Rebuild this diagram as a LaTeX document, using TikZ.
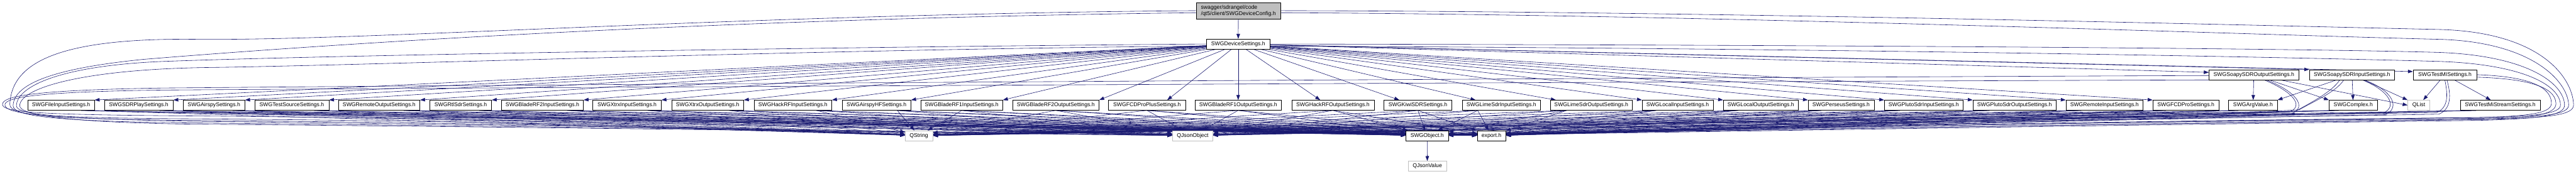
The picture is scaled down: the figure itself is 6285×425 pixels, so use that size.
\documentclass[tikz,border=0pt]{standalone}
\usepackage{fontspec}
\setmainfont{Liberation Sans}
\usetikzlibrary{arrows.meta,calc}
\definecolor{edgeblue}{RGB}{25,25,112}
\definecolor{extgray}{RGB}{191,191,191}
\definecolor{topfill}{RGB}{191,191,191}
\pgfdeclarelayer{bg}
\pgfdeclarelayer{paper}
\pgfsetlayers{paper,bg,main}
\begin{document}
\begin{tikzpicture}[x=1pt,y=-1pt,
 box/.style={draw=black,fill=white,line width=0.9pt,minimum height=24.5pt,inner xsep=2pt,inner ysep=0pt,anchor=west,font=\fontsize{13.3}{15.5}\selectfont},
 ext/.style={box,draw=extgray},
 hdr/.style={box,fill=topfill,align=left,minimum height=40pt,inner xsep=4pt},
 edge/.style={draw=edgeblue,line width=0.9pt,-{Triangle[length=12pt,width=8.5pt]}},
]
\begin{pgfonlayer}{paper}
\fill[white] (0,0) rectangle (6285,425);
\end{pgfonlayer}
\useasboundingbox (0,0) rectangle (6285,425);

% ---------------- nodes ----------------
\node[hdr,minimum width=206pt] (config) at (2918,26) {swagger/sdrangel/code\\/qt5/client/SWGDeviceConfig.h};
\node[box,minimum width=155pt] (ds) at (2943,107.5) {SWGDeviceSettings.h};

\node[box,minimum width=163pt] (fileinput) at (67,257) {SWGFileInputSettings.h};
\node[box,minimum width=168pt] (sdrplay) at (254,257) {SWGSDRPlaySettings.h};
\node[box,minimum width=151pt] (airspy) at (446,257) {SWGAirspySettings.h};
\node[box,minimum width=181pt] (testsource) at (621,257) {SWGTestSourceSettings.h};
\node[box,minimum width=199pt] (remoteout) at (825,257) {SWGRemoteOutputSettings.h};
\node[box,minimum width=151pt] (rtlsdr) at (1048,257) {SWGRtlSdrSettings.h};
\node[box,minimum width=200pt] (bladerf2in) at (1223,257) {SWGBladeRF2InputSettings.h};
\node[box,minimum width=167pt] (xtrxin) at (1446,257) {SWGXtrxInputSettings.h};
\node[box,minimum width=176pt] (xtrxout) at (1638,257) {SWGXtrxOutputSettings.h};
\node[box,minimum width=190pt] (hackrfin) at (1839,257) {SWGHackRFInputSettings.h};
\node[box,minimum width=168pt] (airspyhf) at (2054,257) {SWGAirspyHFSettings.h};
\node[box,minimum width=200pt] (bladerf1in) at (2246,257) {SWGBladeRF1InputSettings.h};
\node[box,minimum width=211pt] (bladerf2out) at (2470,257) {SWGBladeRF2OutputSettings.h};
\node[box,minimum width=188pt] (fcdproplus) at (2704,257) {SWGFCDProPlusSettings.h};
\node[box,minimum width=211pt] (bladerf1out) at (2915,257) {SWGBladeRF1OutputSettings.h};
\node[box,minimum width=201pt] (hackrfout) at (3151,257) {SWGHackRFOutputSettings.h};
\node[box,minimum width=166pt] (kiwisdr) at (3376,257) {SWGKiwiSDRSettings.h};
\node[box,minimum width=191pt] (limein) at (3567,257) {SWGLimeSdrInputSettings.h};
\node[box,minimum width=200pt] (limeout) at (3782,257) {SWGLimeSdrOutputSettings.h};
\node[box,minimum width=173pt] (localin) at (4006,257) {SWGLocalInputSettings.h};
\node[box,minimum width=183pt] (localout) at (4204,257) {SWGLocalOutputSettings.h};
\node[box,minimum width=161pt] (perseus) at (4411,257) {SWGPerseusSettings.h};
\node[box,minimum width=192pt] (plutoin) at (4597,257) {SWGPlutoSdrInputSettings.h};
\node[box,minimum width=203pt] (plutoout) at (4813,257) {SWGPlutoSdrOutputSettings.h};
\node[box,minimum width=188pt] (remotein) at (5040,257) {SWGRemoteInputSettings.h};
\node[box,minimum width=161pt] (fcdpro) at (5252,257) {SWGFCDProSettings.h};
\node[box,minimum width=119pt] (argvalue) at (5437,257) {SWGArgValue.h};
\node[box,minimum width=118pt] (complex) at (5682,257) {SWGComplex.h};
\node[ext,minimum width=54pt] (qlist) at (5874,257) {QList};
\node[box,minimum width=195pt] (testmistream) at (6002,257) {SWGTestMiStreamSettings.h};

\node[box,minimum width=219pt] (soapyout) at (5389,182.5) {SWGSoapySDROutputSettings.h};
\node[box,minimum width=208pt] (soapyin) at (5634,182.5) {SWGSoapySDRInputSettings.h};
\node[box,minimum width=155pt] (testmi) at (5887,182.5) {SWGTestMISettings.h};

\node[ext,minimum width=67pt] (qstring) at (2208,331.5) {QString};
\node[ext,minimum width=99pt] (qjsonobject) at (2860,331.5) {QJsonObject};
\node[box,minimum width=103pt] (swgobject) at (3430,331.5) {SWGObject.h};
\node[box,minimum width=69pt] (export) at (3604,331.5) {export.h};
\node[ext,minimum width=94pt] (qjsonvalue) at (3435,406) {QJsonValue};

% ---------------- edges ----------------
\begin{pgfonlayer}{bg}
\draw[edge] (config) -- (ds);
\draw[edge] (swgobject) -- (qjsonvalue);

% SWGDeviceSettings.h -> device settings headers
\foreach \n in {fileinput,sdrplay,airspy,testsource,remoteout,rtlsdr,bladerf2in,xtrxin,xtrxout,hackrfin,airspyhf,bladerf1in,bladerf2out}
  {\draw[edge] (ds) -- (\n.north east);}
\draw[edge] (ds) -- ($(fcdproplus.north east)+(-45,0)$);
\draw[edge] (ds) -- (bladerf1out);
\draw[edge] (ds) -- ($(hackrfout.north west)+(70,0)$);
\draw[edge] (ds) -- ($(kiwisdr.north west)+(38,0)$);
\draw[edge] (ds) -- ($(limein.north west)+(33,0)$);
\draw[edge] (ds) -- ($(limeout.north west)+(14,0)$);
\foreach \n in {localin,localout,perseus,plutoin,plutoout,remotein,fcdpro}
  {\draw[edge] (ds) -- (\n.north west);}
\draw[edge] (ds) -- ($(soapyout.north west)+(0,7)$);
\draw[edge] (ds) -- (soapyin.north west);
\draw[edge] (ds) -- ($(testmi.north west)+(0,5)$);

% settings headers -> common includes
\foreach \n in {fileinput,sdrplay,airspy,testsource,remoteout,rtlsdr,bladerf2in,xtrxin,xtrxout,hackrfin,airspyhf}
  {\foreach \tg in {qstring,qjsonobject,swgobject,export}
    {\draw[edge] ($(\n.south)!0.6!(\n.south east)$) -- (\tg);}}
\foreach \n in {bladerf1in,bladerf2out,fcdproplus,bladerf1out,hackrfout,kiwisdr}
  {\foreach \tg in {qstring,qjsonobject,swgobject,export}
    {\draw[edge] (\n.south) -- (\tg);}}
\foreach \n in {limein,limeout,localin,localout,perseus,plutoin,plutoout,remotein,fcdpro,argvalue,complex,testmistream}
  {\foreach \tg in {qstring,qjsonobject,swgobject,export}
    {\draw[edge] ($(\n.south)!0.6!(\n.south west)$) -- (\tg);}}

% Soapy / TestMI local includes
\draw[edge] (soapyout) -- (argvalue);
\draw[edge] (soapyout) -- (complex.north west);
\draw[edge] (soapyout) -- (qlist.west);
\draw[edge] (soapyin) -- (argvalue.north east);
\draw[edge] (soapyin) -- (complex);
\draw[edge] (soapyin) -- (qlist);
\draw[edge] (testmi) -- (qlist);
\draw[edge] (testmi) -- (testmistream);

% Soapy output -> commons
\draw[edge] ($(soapyout.south)+(25,0)$) .. controls (5590,222) and (5625,258) .. (5585,274) .. controls (4800,292) and (4000,318) .. (export);
\draw[edge] ($(soapyout.south)+(30,0)$) .. controls (5600,222) and (5632,262) .. (5590,278) .. controls (4800,296) and (3900,322) .. (swgobject);
% Soapy input -> commons
\draw[edge] ($(soapyin.south)+(-20,0)$) .. controls (5700,225) and (5640,250) .. (5610,268) .. controls (5400,285) and (2700,318) .. (qstring);
\draw[edge] ($(soapyin.south)+(-30,0)$) .. controls (5690,225) and (5630,255) .. (5600,272) .. controls (5300,290) and (3300,320) .. (qjsonobject);
\draw[edge] ($(soapyin.south)+(25,0)$) .. controls (5830,222) and (5850,260) .. (5815,276) .. controls (5000,290) and (4000,316) .. (export);
\draw[edge] ($(soapyin.south)+(30,0)$) .. controls (5840,222) and (5856,264) .. (5820,280) .. controls (5000,296) and (3900,322) .. (swgobject);
% TestMI -> commons
\draw[edge] (testmi.south) .. controls (5972,230) and (5975,262) .. (5945,275) .. controls (5000,290) and (2700,316) .. (qstring);
\draw[edge] ($(testmi.south)+(5,0)$) .. controls (5980,230) and (5982,266) .. (5950,279) .. controls (5000,295) and (3300,320) .. (qjsonobject);
\draw[edge] (testmi.east) .. controls (6150,186) and (6222,205) .. (6225,250) .. controls (6227,276) and (6180,283) .. (6050,287) .. controls (5000,300) and (4000,320) .. (export);
\draw[edge] ($(testmi.east)+(0,6)$) .. controls (6160,192) and (6234,210) .. (6236,252) .. controls (6238,280) and (6180,288) .. (6050,291) .. controls (5000,305) and (3900,324) .. (swgobject);

% right loops from config and device settings
\draw[edge] (config.east) .. controls (4200,28) and (5500,62) .. (5950,72) .. controls (6200,78) and (6276,190) .. (6279,255) .. controls (6281,282) and (6220,288) .. (6050,292) .. controls (5000,305) and (4000,322) .. (swgobject);
\draw[edge] ($(config.east)+(0,5)$) .. controls (4200,36) and (5500,85) .. (5950,96) .. controls (6180,102) and (6265,200) .. (6267,256) .. controls (6268,280) and (6210,286) .. (6050,289) .. controls (5000,300) and (4000,318) .. (export);
\draw[edge] (ds.east) .. controls (4500,110) and (5600,118) .. (5950,128) .. controls (6170,136) and (6255,205) .. (6257,256) .. controls (6258,282) and (6200,290) .. (6050,294) .. controls (5000,308) and (3900,326) .. (swgobject);
\draw[edge] ($(ds.east)+(0,5)$) .. controls (4500,118) and (5600,140) .. (5950,150) .. controls (6160,157) and (6246,210) .. (6247,256) .. controls (6248,278) and (6190,284) .. (6050,287) .. controls (5000,298) and (4000,316) .. (export);

% left loops
\draw[edge] (config.west) .. controls (1800,35) and (900,100) .. (480,96) .. controls (150,92) and (28,150) .. (24,255) .. controls (22,285) and (150,290) .. (450,294) .. controls (1300,300) and (1900,318) .. (qstring);
\draw[edge] ($(config.west)+(0,5)$) .. controls (1800,45) and (900,100) .. (350,145) .. controls (150,165) and (34,200) .. (32,258) .. controls (30,285) and (150,296) .. (450,300) .. controls (1300,308) and (2400,325) .. (qjsonobject);
\draw[edge] (ds.west) .. controls (2000,115) and (800,135) .. (400,150) .. controls (150,160) and (42,210) .. (40,258) .. controls (40,282) and (150,288) .. (450,290) .. controls (1300,296) and (1900,316) .. (qstring);
\draw[edge] ($(ds.west)+(0,5)$) .. controls (2000,120) and (900,160) .. (500,165) .. controls (200,170) and (50,215) .. (48,258) .. controls (48,280) and (150,298) .. (450,303) .. controls (1300,310) and (2400,326) .. (qjsonobject);
\draw[edge] ($(soapyout.west)+(0,2)$) .. controls (4000,190) and (1500,205) .. (400,215) .. controls (80,220) and (6,235) .. (6,255) .. controls (6,275) and (100,280) .. (450,283) .. controls (1300,290) and (1900,314) .. (qstring);
\draw[edge] (soapyout.south west) .. controls (4000,200) and (1500,212) .. (400,220) .. controls (90,224) and (12,238) .. (12,256) .. controls (12,278) and (100,288) .. (450,296) .. controls (1300,305) and (2400,324) .. (qjsonobject);
\end{pgfonlayer}
\end{tikzpicture}
\end{document}
